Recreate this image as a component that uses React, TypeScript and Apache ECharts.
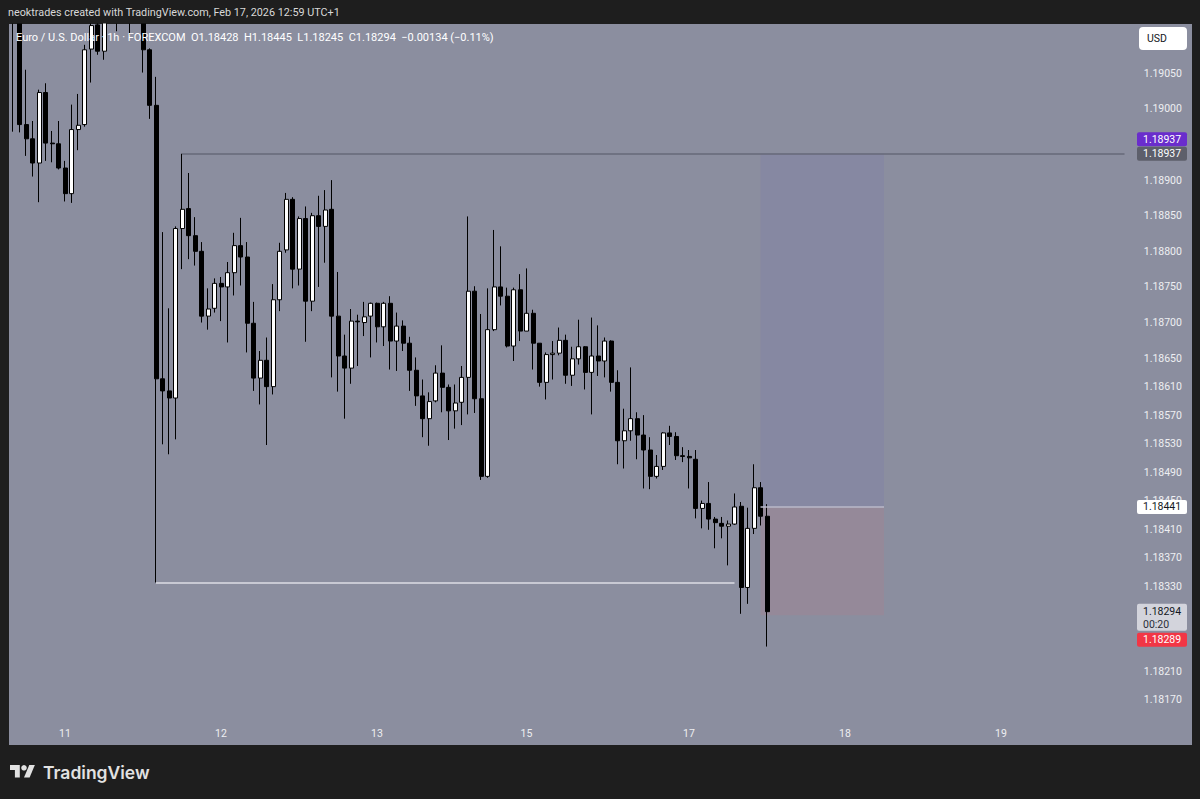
import React, { useEffect, useRef } from "react";
import * as echarts from "echarts";

// EUR/USD 1h (FOREXCOM), times in UTC+1. Each bar: [open, high, low, close]
const barOHLC: number[][] = [
  [1.1914, 1.1916, 1.18968, 1.1913],
  [1.1913, 1.1914, 1.18967, 1.18978],
  [1.18978, 1.19055, 1.18934, 1.18958],
  [1.18958, 1.18983, 1.18905, 1.18924],
  [1.18924, 1.19027, 1.18869, 1.19023],
  [1.19023, 1.19036, 1.18927, 1.18952],
  [1.18952, 1.18969, 1.18925, 1.18951],
  [1.18951, 1.18983, 1.18915, 1.18917],
  [1.18917, 1.18927, 1.1887, 1.18881],
  [1.18881, 1.19006, 1.18868, 1.18971],
  [1.18971, 1.19021, 1.18942, 1.18977],
  [1.18978, 1.1909, 1.18975, 1.19083],
  [1.19084, 1.19122, 1.19037, 1.19117],
  [1.19118, 1.1913, 1.19076, 1.19081],
  [1.19081, 1.1914, 1.19069, 1.19125],
  [1.19125, 1.19165, 1.19122, 1.1915],
  [1.1915, 1.1917, 1.19109, 1.19135],
  [1.19135, 1.1916, 1.19125, 1.19145],
  [1.19145, 1.19155, 1.19104, 1.1913],
  [1.1913, 1.1915, 1.19122, 1.19138],
  [1.19138, 1.19145, 1.19051, 1.19083],
  [1.19083, 1.19085, 1.18986, 1.19005],
  [1.19005, 1.19045, 1.18335, 1.18621],
  [1.18621, 1.18827, 1.18529, 1.18604],
  [1.18604, 1.1872, 1.18515, 1.18594],
  [1.18594, 1.18835, 1.18536, 1.18832],
  [1.18832, 1.18937, 1.18775, 1.18859],
  [1.1886, 1.1891, 1.18789, 1.18822],
  [1.18822, 1.18848, 1.1878, 1.188],
  [1.188, 1.18813, 1.187, 1.18709],
  [1.18709, 1.18748, 1.1869, 1.18719],
  [1.1872, 1.18762, 1.18714, 1.18755],
  [1.18755, 1.18764, 1.18702, 1.1875],
  [1.1875, 1.18785, 1.18672, 1.1877],
  [1.1877, 1.18826, 1.18738, 1.18808],
  [1.18808, 1.18847, 1.18752, 1.18792],
  [1.18792, 1.18813, 1.18658, 1.18699],
  [1.18699, 1.18729, 1.18604, 1.18622],
  [1.18622, 1.1866, 1.18585, 1.18647],
  [1.18647, 1.18679, 1.18528, 1.1861],
  [1.1861, 1.18754, 1.18599, 1.18732],
  [1.18732, 1.18812, 1.18716, 1.188],
  [1.18802, 1.18882, 1.18798, 1.18873],
  [1.18873, 1.18876, 1.18748, 1.18775],
  [1.18775, 1.18849, 1.18752, 1.18846],
  [1.18846, 1.18863, 1.18673, 1.1873],
  [1.1873, 1.18854, 1.18716, 1.1885],
  [1.1885, 1.18878, 1.1875, 1.18835],
  [1.18835, 1.18886, 1.18784, 1.18858],
  [1.18859, 1.189, 1.18623, 1.18709],
  [1.18709, 1.18771, 1.18603, 1.18653],
  [1.18653, 1.18683, 1.18565, 1.18636],
  [1.18636, 1.18719, 1.18614, 1.18702],
  [1.18702, 1.18711, 1.18639, 1.18701],
  [1.187, 1.18729, 1.18681, 1.18708],
  [1.18709, 1.18728, 1.18651, 1.18727],
  [1.18727, 1.18728, 1.18672, 1.18694],
  [1.18694, 1.18729, 1.18667, 1.18727],
  [1.18727, 1.18737, 1.18634, 1.18674],
  [1.18674, 1.18714, 1.18632, 1.18695],
  [1.18695, 1.18703, 1.1866, 1.18671],
  [1.18671, 1.1868, 1.18604, 1.18633],
  [1.18633, 1.18651, 1.18583, 1.18597],
  [1.18597, 1.1862, 1.18539, 1.18565],
  [1.18565, 1.18602, 1.18527, 1.18589],
  [1.1859, 1.1864, 1.18588, 1.18629],
  [1.18629, 1.18668, 1.18574, 1.18609],
  [1.18609, 1.18613, 1.18535, 1.18576],
  [1.18576, 1.18613, 1.18551, 1.18587],
  [1.18588, 1.18639, 1.18556, 1.18623],
  [1.18623, 1.18849, 1.18571, 1.18744],
  [1.18744, 1.18751, 1.18573, 1.18593],
  [1.18593, 1.18712, 1.18479, 1.18484],
  [1.18484, 1.18748, 1.18482, 1.1869],
  [1.1869, 1.1883, 1.18688, 1.1875],
  [1.1875, 1.18807, 1.18724, 1.18737],
  [1.18737, 1.18749, 1.18665, 1.18667],
  [1.18667, 1.18749, 1.18646, 1.18746],
  [1.18746, 1.18768, 1.18674, 1.18688],
  [1.18688, 1.18776, 1.18688, 1.18713],
  [1.18713, 1.18718, 1.18634, 1.18671],
  [1.18671, 1.18671, 1.1861, 1.18616],
  [1.18616, 1.18658, 1.18592, 1.18655],
  [1.18655, 1.18674, 1.1862, 1.18657],
  [1.18657, 1.18693, 1.18654, 1.18675],
  [1.18675, 1.18683, 1.18614, 1.18626],
  [1.18626, 1.18666, 1.18611, 1.18649],
  [1.18649, 1.18704, 1.18641, 1.18666],
  [1.18666, 1.18667, 1.18606, 1.1863],
  [1.1863, 1.18707, 1.18571, 1.18653],
  [1.18653, 1.18696, 1.18625, 1.18646],
  [1.18646, 1.18679, 1.18623, 1.18674],
  [1.18674, 1.18675, 1.18603, 1.18616],
  [1.18616, 1.18633, 1.18501, 1.18534],
  [1.18534, 1.18579, 1.18495, 1.18548],
  [1.18548, 1.18637, 1.18534, 1.18565],
  [1.18565, 1.18574, 1.18508, 1.18542],
  [1.18542, 1.1857, 1.18467, 1.18521],
  [1.18521, 1.18539, 1.18466, 1.18484],
  [1.18484, 1.18514, 1.18481, 1.18498],
  [1.18498, 1.18546, 1.18493, 1.18545],
  [1.18545, 1.18555, 1.18528, 1.1854],
  [1.1854, 1.18546, 1.18507, 1.18513],
  [1.18513, 1.18525, 1.18504, 1.18512],
  [1.18512, 1.18521, 1.18467, 1.1851],
  [1.18508, 1.18521, 1.18425, 1.18439],
  [1.18439, 1.1845, 1.18411, 1.18446],
  [1.18446, 1.18476, 1.18409, 1.18424],
  [1.18424, 1.18427, 1.18383, 1.18419],
  [1.18418, 1.18427, 1.18397, 1.18414],
  [1.18414, 1.18422, 1.18359, 1.18417],
  [1.18417, 1.1846, 1.18416, 1.18441],
  [1.18442, 1.18448, 1.18291, 1.18328],
  [1.18328, 1.1844, 1.18305, 1.18411],
  [1.18411, 1.18501, 1.18403, 1.18468],
  [1.18468, 1.18476, 1.18415, 1.18428],
  [1.18428, 1.18445, 1.18245, 1.18294],
];

// time slots (hourly, UTC+1); market closed from Fri 13 23:00 to Sun 15 23:00
const firstBarUTC = Date.UTC(2026, 1, 10, 16);
const reopenBarUTC = Date.UTC(2026, 1, 15, 23);
const lastBarBeforeWeekend = 78;
const futureSlots = 55;

const dayTickLabels = ["11", "12", "13", "15", "17", "18", "19"];
// price-scale labels that are visible (others are covered by price tags)
const priceTickLabels = [
  "1.19050", "1.19000", "1.18900", "1.18850", "1.18800", "1.18750",
  "1.18700", "1.18650", "1.18610", "1.18570", "1.18530", "1.18490", "1.18450",
  "1.18410", "1.18370", "1.18330", "1.18210", "1.18170",
];

// drawings
const targetPrice = 1.18937;
const entryPrice = 1.18441;
const stopPrice = 1.18289;
const swingLowPrice = 1.18335;
const targetLineStartBar = 26;
const swingLowStartBar = 22;
const swingLowEndBar = 111;
const positionStartBar = 115;
const positionEndBar = 134;
const countdownText = "00:20";

const headerText = "neoktrades created with TradingView.com, Feb 17, 2026 12:59 UTC+1";
const symbolText = "Euro / U.S. Dollar · 1h · FOREXCOM";

const FRAME = "#1e1e1e";
const PANEL = "#8b8e9f";
const AXIS_TEXT = "#eeeef2";
const UI_FONT = "Roboto, 'Noto Sans', sans-serif";

function buildSlots() {
  const total = barOHLC.length + futureSlots;
  const slots: { label: string; day: number }[] = [];
  for (let i = 0; i < total; i++) {
    const t =
      i <= lastBarBeforeWeekend
        ? firstBarUTC + i * 3600000
        : reopenBarUTC + (i - lastBarBeforeWeekend - 1) * 3600000;
    const d = new Date(t);
    slots.push({
      label: `${d.getUTCDate()} ${String(d.getUTCHours()).padStart(2, "0")}:00`,
      day: d.getUTCDate(),
    });
  }
  return slots;
}

const fmt5 = (v: number) => v.toFixed(5);
const minus = (s: string) => s.replace("-", "\u2212");

export default function App() {
  const ref = useRef<HTMLDivElement>(null);

  useEffect(() => {
    if (!ref.current) return;
    const chart = echarts.init(ref.current, null, { renderer: "svg" });
    const slots = buildSlots();
    const lastSlot = slots.length - 1;
    const labelIdx = new Set<number>();
    slots.forEach((s, i) => {
      const first = i === 0 || slots[i - 1].day !== s.day;
      if (first && i > 0 && dayTickLabels.includes(String(s.day))) labelIdx.add(i);
    });
    const tickSet = new Set(priceTickLabels.map((t) => Math.round(parseFloat(t) * 1e5)));

    const last = barOHLC[barOHLC.length - 1];
    const prevClose = barOHLC[barOHLC.length - 2][3];
    const lastPrice = last[3];
    const chg = lastPrice - prevClose;
    const pct = (chg / prevClose) * 100;

    chart.setOption({
      animation: false,
      backgroundColor: "transparent",
      grid: { left: 9.75, top: 23.44, width: 1118, height: 697.9, containLabel: false },
      xAxis: {
        type: "category",
        data: slots.map((s) => s.label),
        boundaryGap: true,
        axisLine: { show: false },
        axisTick: { show: false },
        splitLine: { show: false },
        axisLabel: {
          interval: (idx: number) => labelIdx.has(idx),
          formatter: (_v: string, idx: number) => String(slots[idx].day),
          color: AXIS_TEXT,
          fontSize: 10.5,
          fontFamily: UI_FONT,
          margin: 7,
        },
      },
      yAxis: {
        type: "value",
        position: "right",
        min: 1.1814,
        max: 1.1912,
        interval: 0.0001,
        axisLine: { show: false },
        axisTick: { show: false },
        splitLine: { show: false },
        axisLabel: {
          margin: 16,
          color: AXIS_TEXT,
          fontSize: 10.5,
          fontFamily: UI_FONT,
          formatter: (v: number) => (tickSet.has(Math.round(v * 1e5)) ? fmt5(v) : ""),
        },
      },
      series: [
        {
          type: "candlestick",
          barWidth: 4.5,
          clip: true,
          data: barOHLC.map(([o, h, l, c]) => [o, c, l, h]),
          itemStyle: {
            color: "#ffffff",
            color0: "#000000",
            borderColor: "#000000",
            borderColor0: "#000000",
            borderWidth: 1,
          },
          markArea: {
            silent: true,
            data: [
              [
                { xAxis: positionStartBar, yAxis: targetPrice, itemStyle: { color: "rgba(112,104,178,0.16)" } },
                { xAxis: positionEndBar, yAxis: entryPrice },
              ],
              [
                { xAxis: positionStartBar, yAxis: entryPrice, itemStyle: { color: "rgba(190,122,130,0.2)" } },
                { xAxis: positionEndBar, yAxis: stopPrice },
              ],
            ],
          },
          markLine: {
            silent: true,
            symbol: ["none", "none"],
            label: { show: false },
            data: [
              [
                { xAxis: targetLineStartBar, yAxis: targetPrice, lineStyle: { color: "#666978", width: 1.5, type: "solid" } },
                { xAxis: lastSlot, yAxis: targetPrice },
              ],
              [
                { xAxis: swingLowStartBar, yAxis: swingLowPrice, lineStyle: { color: "#dcdce4", width: 1.5, type: "solid" } },
                { xAxis: swingLowEndBar, yAxis: swingLowPrice },
              ],
              [
                { xAxis: positionStartBar, yAxis: entryPrice, lineStyle: { color: "#b8b8c8", width: 1.5, type: "solid" } },
                { xAxis: positionEndBar, yAxis: entryPrice },
              ],
              { yAxis: lastPrice, lineStyle: { color: "#e4e4ec", width: 1, type: "dotted" } },
            ],
          },
        },
      ],
    });

    const py = (p: number) => chart.convertToPixel({ yAxisIndex: 0 }, p) as number;
    const tagX = 1137;
    const tagW = 50;
    const tagH = 14;
    const txtX = 1143;
    const font = `10.5px ${UI_FONT}`;
    const tag = (top: number, h: number, fill: string) => ({
      type: "rect",
      z: 100,
      silent: true,
      shape: { x: tagX, y: top, width: tagW, height: h, r: 2 },
      style: { fill },
    });
    const tagText = (cy: number, text: string, fill: string) => ({
      type: "text",
      z: 101,
      silent: true,
      x: txtX,
      y: cy,
      style: { text, fill, font, align: "left", verticalAlign: "middle" },
    });

    const yT = py(targetPrice);
    const yE = py(entryPrice);
    const yL = py(lastPrice);
    const lastBoxTop = yL - 8;
    const lastBoxH = 27;
    const stopTop = lastBoxTop + lastBoxH + 2;
    const paneTop = py(1.1912);

    chart.setOption({
      graphic: [
        // dark header band masks bars running above the pane
        {
          type: "rect", z: 50, silent: true,
          shape: { x: 0, y: 0, width: 1200, height: Math.round(paneTop) + 0.5 },
          style: { fill: FRAME },
        },
        {
          type: "text", z: 51, silent: true, x: 8, y: 12,
          style: { text: headerText, fill: "#d8d8d8", font: `10.8px ${UI_FONT}`, verticalAlign: "middle" },
        },
        {
          type: "text", z: 60, silent: true, x: 16, y: 37,
          style: {
            text:
              `${symbolText}  O${fmt5(last[0])}  H${fmt5(last[1])}  L${fmt5(last[2])}  C${fmt5(lastPrice)}  ` +
              `${minus(chg.toFixed(5))} (${minus(pct.toFixed(2))}%)`,
            fill: "#ffffff",
            font: `11px ${UI_FONT}`,
            verticalAlign: "middle",
          },
        },
        // USD button
        {
          type: "rect", z: 100, silent: true,
          shape: { x: 1139, y: 27, width: 48, height: 23, r: 4 },
          style: { fill: "#ffffff" },
        },
        {
          type: "text", z: 101, silent: true, x: 1147, y: 38.5,
          style: { text: "USD", fill: "#131722", font: `10.5px ${UI_FONT}`, verticalAlign: "middle" },
        },
        // price tags
        tag(yT - tagH / 2 - tagH - 0.5, tagH, "#6a2dcc"),
        tagText(yT - tagH - 0.5, fmt5(targetPrice), "#ffffff"),
        tag(yT - tagH / 2, tagH, "#5d5f6b"),
        tagText(yT, fmt5(targetPrice), "#ffffff"),
        tag(yE - tagH / 2, tagH, "#ffffff"),
        tagText(yE, fmt5(entryPrice), "#131722"),
        tag(lastBoxTop, lastBoxH, "#d3d4dc"),
        tagText(yL, fmt5(lastPrice), "#131722"),
        tagText(yL + 12.5, countdownText, "#2a2e39"),
        tag(stopTop, tagH, "#f23645"),
        tagText(stopTop + tagH / 2, fmt5(stopPrice), "#ffffff"),
        // TradingView logo
        {
          type: "group", z: 1, silent: true, x: 10, y: 762.3, scaleX: 0.7, scaleY: 0.69,
          children: [
            { type: "polygon", shape: { points: [[0, 4], [14, 4], [14, 22], [7, 22], [7, 11], [0, 11]] }, style: { fill: "#e2e2e2" } },
            { type: "circle", shape: { cx: 20, cy: 8, r: 4 }, style: { fill: "#e2e2e2" } },
            { type: "polygon", shape: { points: [[20, 22], [27.5, 4], [35.5, 4], [28, 22]] }, style: { fill: "#e2e2e2" } },
          ],
        },
        {
          type: "text", z: 1, silent: true, x: 43, y: 772,
          style: { text: "TradingView", fill: "#e2e2e2", font: `600 17.5px Inter, ${UI_FONT}`, verticalAlign: "middle" },
        },
      ],
    });

    return () => chart.dispose();
  }, []);

  return (
    <div style={{ position: "fixed", left: 0, top: 0, width: 1200, height: 799, background: FRAME }}>
      <div style={{ position: "absolute", left: 9, top: 24, width: 1183, height: 721, background: PANEL }} />
      <div ref={ref} style={{ position: "absolute", left: 0, top: 0, width: 1200, height: 799 }} />
    </div>
  );
}
